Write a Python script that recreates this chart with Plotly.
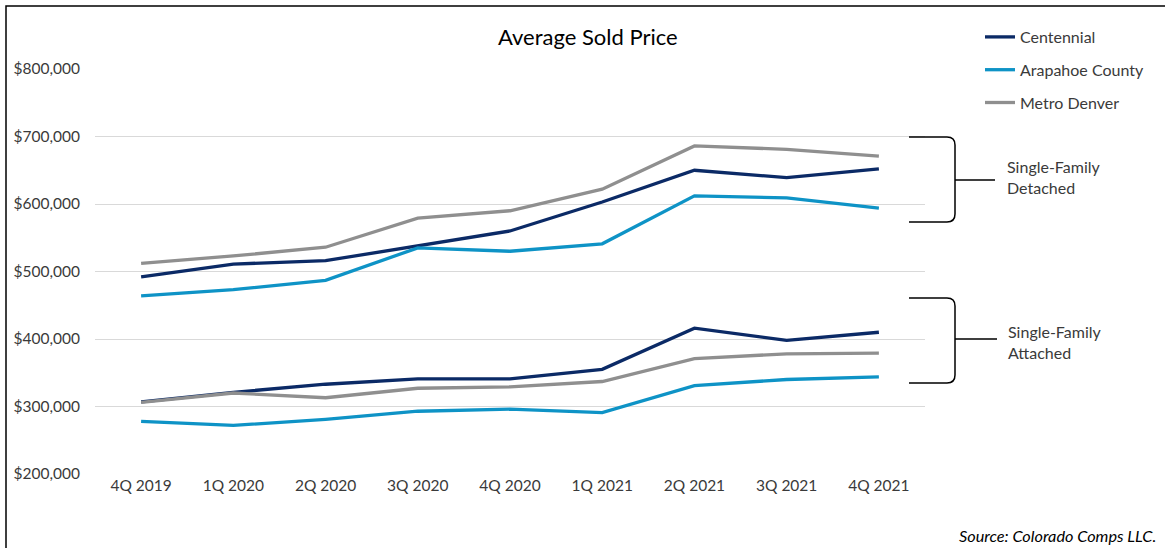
import plotly.graph_objects as go

quarters = ["4Q 2019", "1Q 2020", "2Q 2020", "3Q 2020", "4Q 2020",
            "1Q 2021", "2Q 2021", "3Q 2021", "4Q 2021"]

# Single-Family Detached
sfd_centennial = [492000, 511000, 516000, 538000, 560000, 603000, 650000, 639000, 652000]
sfd_arapahoe = [464000, 473000, 487000, 535000, 530000, 541000, 612000, 609000, 594000]
sfd_metro = [512000, 523000, 536000, 579000, 590000, 622000, 686000, 681000, 671000]

# Single-Family Attached
sfa_centennial = [307000, 321000, 333000, 341000, 341000, 355000, 416000, 398000, 410000]
sfa_arapahoe = [278000, 272000, 281000, 293000, 296000, 291000, 331000, 340000, 344000]
sfa_metro = [306000, 320000, 313000, 327000, 329000, 337000, 371000, 378000, 379000]

y_ticks = [200000, 300000, 400000, 500000, 600000, 700000, 800000]
y_tick_labels = ["$200,000", "$300,000", "$400,000", "$500,000", "$600,000", "$700,000", "$800,000"]

series_names = ["Centennial", "Arapahoe County", "Metro Denver"]
colors = {"Centennial": "#0b2a66", "Arapahoe County": "#0e93c6", "Metro Denver": "#8f8f8f"}

W, H = 1165, 548
ML, MR, MT, MB = 95, 240, 69, 74
PW, PH = W - ML - MR, H - MT - MB


def px(x):
    return (x - ML) / PW


def py(y):
    return 1 - (y - MT) / PH


FONT = "Lato"
TXT = "#3a3a3a"

fig = go.Figure()
detached = {"Centennial": sfd_centennial, "Arapahoe County": sfd_arapahoe, "Metro Denver": sfd_metro}
attached = {"Centennial": sfa_centennial, "Arapahoe County": sfa_arapahoe, "Metro Denver": sfa_metro}

for name in series_names:
    fig.add_trace(go.Scatter(x=quarters, y=detached[name], mode="lines", name=name,
                             legendgroup=name, showlegend=True,
                             line=dict(color=colors[name], width=3.3)))
    fig.add_trace(go.Scatter(x=quarters, y=attached[name], mode="lines", name=name,
                             legendgroup=name, showlegend=False,
                             line=dict(color=colors[name], width=3.3)))


def bracket(x0, xv, xt, yt, ym, yb):
    r = 8
    path = (f"M {px(x0)},{py(yt)} L {px(xv - r)},{py(yt)} "
            f"Q {px(xv)},{py(yt)} {px(xv)},{py(yt + r)} "
            f"L {px(xv)},{py(yb - r)} "
            f"Q {px(xv)},{py(yb)} {px(xv - r)},{py(yb)} "
            f"L {px(x0)},{py(yb)} "
            f"M {px(xv)},{py(ym)} L {px(xt)},{py(ym)}")
    return dict(type="path", xref="paper", yref="paper", path=path,
                line=dict(color="black", width=1.5))


shapes = [
    bracket(909, 955, 995, 137, 180, 222),
    bracket(909, 955, 997, 298, 339, 383),
    dict(type="rect", xref="paper", yref="paper",
         x0=px(6), x1=px(1190), y0=py(6), y1=py(580),
         line=dict(color="black", width=1.5)),
]

annotations = [
    dict(text="Average Sold Price", x=px(588), y=py(37), xref="paper", yref="paper",
         showarrow=False, font=dict(family=FONT, size=22, color="black"),
         xanchor="center", yanchor="middle"),
    dict(text="Single-Family<br>Detached", x=px(1005), y=py(177), xref="paper", yref="paper",
         showarrow=False, align="left", font=dict(family=FONT, size=16, color=TXT),
         xanchor="left", yanchor="middle"),
    dict(text="Single-Family<br>Attached", x=px(1006), y=py(342), xref="paper", yref="paper",
         showarrow=False, align="left", font=dict(family=FONT, size=16, color=TXT),
         xanchor="left", yanchor="middle"),
    dict(text="<i>Source: Colorado Comps LLC.</i>", x=px(1158), y=py(535), xref="paper", yref="paper",
         showarrow=False, font=dict(family=FONT, size=16.3, color="black"),
         xanchor="right", yanchor="middle"),
]

fig.update_layout(
    width=W, height=H,
    margin=dict(l=ML, r=MR, t=MT, b=MB),
    paper_bgcolor="white", plot_bgcolor="white",
    font=dict(family=FONT, size=15.5, color=TXT),
    showlegend=True,
    legend=dict(x=px(980), y=py(20), xanchor="left", yanchor="top",
                font=dict(family=FONT, size=16, color=TXT),
                tracegroupgap=9, bgcolor="rgba(0,0,0,0)", itemwidth=30),
    xaxis=dict(type="category", range=[-0.5, 8.5], showgrid=False, showline=False,
               zeroline=False, ticks="", tickfont=dict(family=FONT, size=15.5, color=TXT)),
    yaxis=dict(range=[200000, 800000], tickvals=y_ticks, ticktext=y_tick_labels,
               showgrid=True, gridcolor="#d9d9d9", gridwidth=1, zeroline=False,
               showline=False, ticks="", ticklabelstandoff=14,
               tickfont=dict(family=FONT, size=15.5, color=TXT)),
    shapes=shapes,
    annotations=annotations,
)

fig.write_html("out.html", config={"displayModeBar": False},
               post_script="document.body.style.margin='0';")
